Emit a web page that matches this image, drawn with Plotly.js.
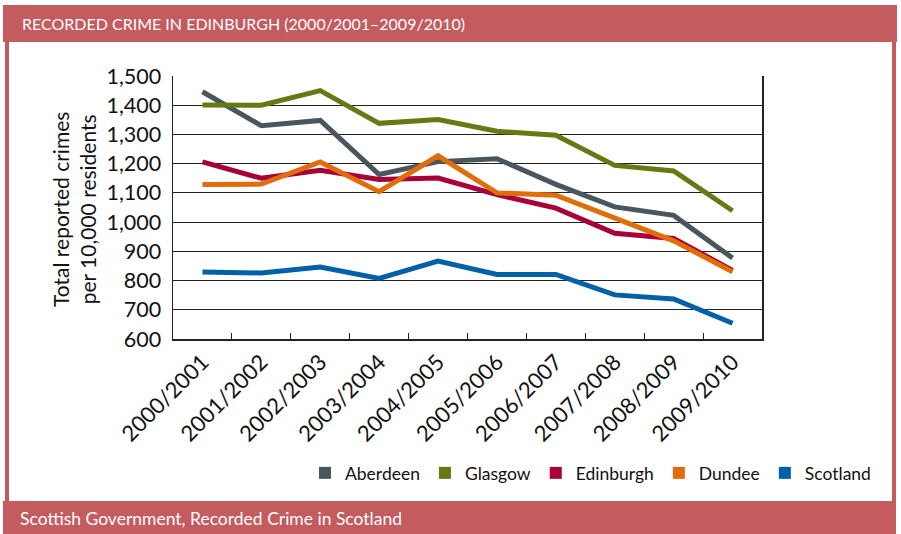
<!DOCTYPE html>
<html>
<head>
<meta charset="utf-8">
<script src="https://cdn.plot.ly/plotly-3.0.1.min.js"></script>
<style>html,body{margin:0;padding:0;background:#fff;}#chart{width:901px;height:534px;}</style>
</head>
<body>
<div id="chart"></div>
<script>
// ---- data ----
const years = ["2000/2001","2001/2002","2002/2003","2003/2004","2004/2005","2005/2006","2006/2007","2007/2008","2008/2009","2009/2010"];
const aberdeen  = [1446, 1330, 1348, 1163, 1207, 1217, 1129, 1052, 1023, 877];
const glasgow   = [1401, 1400, 1450, 1338, 1351, 1311, 1297, 1194, 1175, 1039];
const edinburgh = [1206, 1150, 1177, 1146, 1151, 1094, 1048, 962, 944, 835];
const dundee    = [1129, 1130, 1206, 1104, 1227, 1100, 1092, 1016, 936, 830];
const scotland  = [829, 826, 846, 807, 867, 821, 821, 751, 737, 654];
const seriesNames = ["Aberdeen","Glasgow","Edinburgh","Dundee","Scotland"];
const chartTitle = "RECORDED CRIME IN EDINBURGH (2000/2001\u20132009/2010)";
const sourceText = "Scottish Government, Recorded Crime in Scotland";
const yTitle = "Total reported crimes<br>per 10,000 residents";

// ---- style ----
const colors = ["#4a565e","#667a14","#a8003a","#e06c0a","#0061a8"];
const barColor = "#c45b5e";
const FONT = "Lato, 'Open Sans', sans-serif";
const W = 901, H = 534;
const plotL = 173, plotR = 762, plotT = 76, plotB = 339;
const px = v => (v - plotL) / (plotR - plotL);
const py = v => (plotB - v) / (plotB - plotT);

const values = [aberdeen, glasgow, edinburgh, dundee, scotland];
const traces = [];
values.forEach((vals, i) => {
  traces.push({
    type: "scatter", mode: "lines", x: years, y: vals, name: seriesNames[i],
    line: {color: colors[i], width: 5}, showlegend: false, hoverinfo: "x+y+name"
  });
});
values.forEach((vals, i) => {
  traces.push({
    type: "scatter", mode: "markers", x: [null], y: [null], name: seriesNames[i],
    marker: {symbol: "square", size: 12, color: colors[i]}, showlegend: true
  });
});

function rect(x0, y0, x1, y1) {
  return {type: "rect", xref: "paper", yref: "paper", x0: px(x0), x1: px(x1), y0: py(y1), y1: py(y0),
          fillcolor: barColor, line: {width: 0}, layer: "below"};
}

const layout = {
  width: W, height: H,
  margin: {l: plotL, r: W - plotR, t: plotT, b: H - plotB, pad: 0},
  paper_bgcolor: "#fff", plot_bgcolor: "#fff",
  font: {family: FONT, color: "#111"},
  title: {text: chartTitle, font: {family: FONT, size: 16, color: "#fff"},
          xref: "container", yref: "container", x: 22 / W, xanchor: "left", y: 1 - 24 / H, yanchor: "middle"},
  xaxis: {
    type: "category", range: [-0.5, 9.5], tickson: "boundaries",
    ticks: "inside", ticklen: 6, tickcolor: "#222", tickwidth: 1,
    showline: true, linecolor: "#222", linewidth: 1.5, showgrid: false,
    tickangle: -45, tickfont: {family: FONT, size: 22, color: "#111"}, automargin: false
  },
  yaxis: {
    range: [600, 1500], dtick: 100, tickformat: ",d", ticks: "",
    showline: true, linecolor: "#222", linewidth: 1.5, mirror: true,
    showgrid: true, gridcolor: "#222", gridwidth: 1, zeroline: false,
    tickfont: {family: FONT, size: 21.5, color: "#111"}, automargin: false, ticklabelstandoff: 6
  },
  legend: {orientation: "h", x: px(876), xanchor: "right", y: py(473), yanchor: "middle",
           font: {family: FONT, size: 17.5, color: "#111"}, bgcolor: "rgba(0,0,0,0)",
           itemwidth: 30, tracegroupgap: 0},
  shapes: [
    rect(3, 5, 897, 42),
    rect(5, 42, 9, 501),
    rect(892, 42, 896, 501),
    rect(3, 501, 896, 534)
  ],
  annotations: [
    {text: yTitle, xref: "paper", yref: "paper", x: px(74), y: py(210), xanchor: "center", yanchor: "middle",
     textangle: -90, showarrow: false, font: {family: FONT, size: 21, color: "#111"}},
    {text: sourceText, xref: "paper", yref: "paper", x: px(18), y: py(518), xanchor: "left", yanchor: "middle",
     showarrow: false, font: {family: FONT, size: 17.5, color: "#fff"}}
  ]
};

Plotly.newPlot("chart", traces, layout, {displayModeBar: false, staticPlot: true});
</script>
</body>
</html>
